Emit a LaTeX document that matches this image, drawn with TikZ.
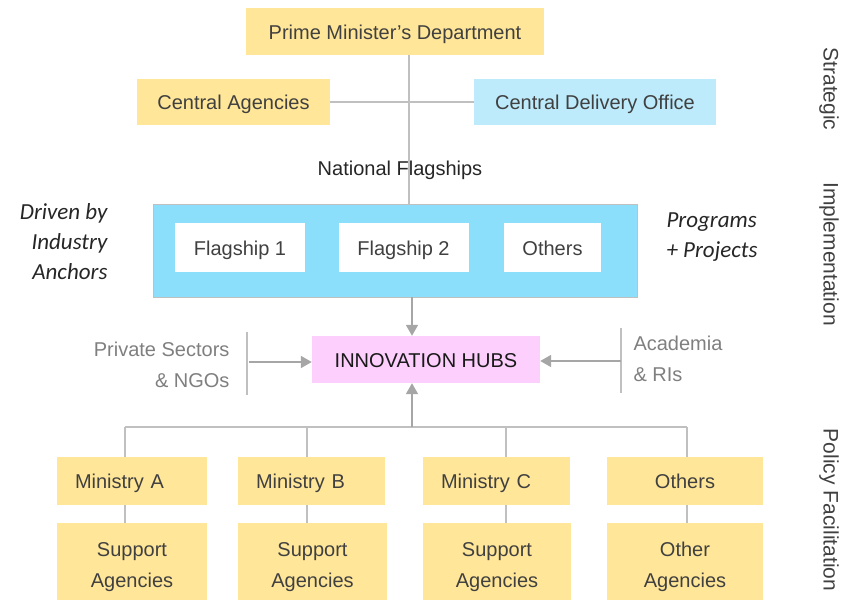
\documentclass[tikz,border=0pt]{standalone}
\usepackage{fontspec}
\setmainfont{Liberation Sans}
\newfontfamily\carl{Carlito}
\usetikzlibrary{arrows.meta}
\definecolor{ybox}{HTML}{FFE699}
\definecolor{cdob}{HTML}{BDEBFB}
\definecolor{contb}{HTML}{8BDFFB}
\definecolor{hubp}{HTML}{FCCFFC}
\definecolor{txt}{HTML}{404040}
\definecolor{sidetxt}{HTML}{7F7F7F}
\definecolor{lin}{HTML}{C0C0C0}
\definecolor{arr}{HTML}{A6A6A6}
\tikzset{
  box/.style={rectangle, inner sep=0pt, text=txt, font=\fontsize{20}{31}\selectfont, align=center, text height=15.4pt, text depth=0pt},
  ybx/.style={box, fill=ybox},
  minbox/.style={ybx, minimum height=48pt},
  minleft/.style={ybx, minimum height=48pt, align=left, inner xsep=18pt},
  supbox/.style={ybx, minimum height=77pt, text height=51pt, text depth=0pt},
  fbox/.style={box, fill=white, minimum height=49pt},
  conn/.style={draw=lin, line width=1.6pt},
  arrw/.style={draw=arr, line width=1.8pt, -{Triangle[length=11pt,width=12pt]}},
  sidelab/.style={text=sidetxt, font=\fontsize{20}{31}\selectfont},
  itlab/.style={text=black!85, font=\carl\itshape\fontsize{23}{30}\selectfont},
  layerlab/.style={text=txt, font=\fontsize{21}{25}\selectfont, rotate=-90}
}
\begin{document}
\begin{tikzpicture}[x=1pt,y=-1pt]
\useasboundingbox (0,0) rectangle (844,600);
% coordinates for connectors
\coordinate (topline) at (409,55);
\coordinate (conttop) at (409,204);
% Strategic layer
\node[ybx, minimum width=298pt, minimum height=47pt] (pmd) at (395,31.5) {Prime Minister’s Department};
\node[ybx, minimum width=193pt, minimum height=46pt] (ca) at (233.5,102) {Central Agencies};
\node[box, fill=cdob, minimum width=242pt, minimum height=46pt] (cdo) at (595,102) {Central Delivery Office};
\draw[conn] (pmd.south -| topline) -- (conttop);
\draw[conn] (ca.east) -- (cdo.west);
\node[box, text=black!85] (nf) at (400,168) {National Flagships};
% Implementation layer
\node[box, fill=contb, draw=lin, line width=0.8pt, minimum width=484pt, minimum height=93pt] (cont) at (395,250.5) {};
\node[fbox, minimum width=130pt] (f1) at (240,247.5) {Flagship 1};
\node[fbox, minimum width=130pt] (f2) at (403.5,247.5) {Flagship 2};
\node[fbox, minimum width=97pt] (fo) at (552.5,247.5) {Others};
\node[itlab, align=right, anchor=east] (drv) at (111,242) {Driven by\\Industry\\Anchors};
\node[itlab, align=left, anchor=west] (prg) at (663,237) {Programs\\+ Projects};
% Innovation hubs
\node[box, fill=hubp, text=black!90, minimum width=228pt, minimum height=47pt] (hub) at (426,359.5) {INNOVATION HUBS};
\coordinate (contbot) at (412,297);
\draw[arrw] (contbot) -- (contbot |- hub.north);
\node[sidelab, align=right, anchor=east] (psn) at (233,365) {Private Sectors\\\& NGOs};
\coordinate (lvt) at (247,332);
\coordinate (lvb) at (247,395);
\draw[conn] (lvt) -- (lvb);
\coordinate (la) at (249,362);
\draw[arrw] (la) -- (la -| hub.west);
\node[sidelab, align=left, anchor=west] (aca) at (630,359) {Academia\\\& RIs};
\coordinate (rvt) at (621,328);
\coordinate (rvb) at (621,393);
\draw[conn] (rvt) -- (rvb);
\coordinate (ra) at (621,361);
\draw[arrw] (ra) -- (ra -| hub.east);
% Policy layer
\coordinate (busl) at (125,427);
\coordinate (busr) at (687,427);
\coordinate (busm) at (412,427);
\draw[conn] (busl) -- (busr);
\draw[arrw] (busm) -- (busm |- hub.south);
\node[minleft, text width=114pt] (ma) at (132,481) {Ministry A};
\node[minleft, text width=111pt] (mb) at (311.5,481) {Ministry B};
\node[minleft, text width=111pt] (mc) at (496.5,481) {Ministry C};
\node[minbox, minimum width=156pt] (mo) at (685,481) {Others};
\node[supbox, minimum width=150pt] (sa) at (132,561.5) {Support\\Agencies};
\node[supbox, minimum width=149pt] (sb) at (312.5,561.5) {Support\\Agencies};
\node[supbox, minimum width=148pt] (sc) at (497,561.5) {Support\\Agencies};
\node[supbox, minimum width=156pt] (so) at (685,561.5) {Other\\Agencies};
\coordinate (da) at (125,427);
\coordinate (db) at (307,427);
\coordinate (dc) at (506,427);
\coordinate (dd) at (687,427);
\draw[conn] (da) -- (da |- ma.north);
\draw[conn] (db) -- (db |- mb.north);
\draw[conn] (dc) -- (dc |- mc.north);
\draw[conn] (dd) -- (dd |- mo.north);
\draw[conn] (da |- ma.south) -- (da |- sa.north);
\draw[conn] (db |- mb.south) -- (db |- sb.north);
\draw[conn] (dc |- mc.south) -- (dc |- sc.north);
\draw[conn] (dd |- mo.south) -- (dd |- so.north);
% layer labels
\node[layerlab] (lstr) at (829,89) {Strategic};
\node[layerlab] (limp) at (829,254) {Implementation};
\node[layerlab] (lpol) at (829,510) {Policy Facilitation};
\end{tikzpicture}
\end{document}
